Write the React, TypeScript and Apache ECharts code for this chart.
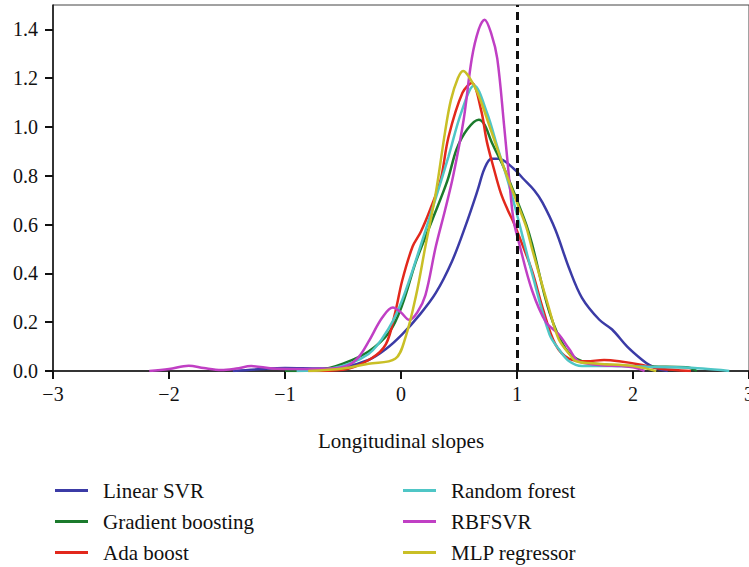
import React, { useEffect, useRef } from "react";
import * as echarts from "echarts";

type Pt = [number, number];

const seriesNames = [
  "Linear SVR",
  "Gradient boosting",
  "Ada boost",
  "Random forest",
  "RBFSVR",
  "MLP regressor",
];
const seriesColors = ["#3b3ba6", "#1b7a2c", "#e2281c", "#4fc6c6", "#c03fc4", "#c9bf26"];

const linearSvr: Pt[] = [
  [-1.45, 0], [-1.2, 0.008], [-1.0, 0.012], [-0.7, 0.01], [-0.5, 0.015], [-0.28, 0.045],
  [-0.13, 0.09], [0.01, 0.15], [0.16, 0.23], [0.3, 0.32], [0.44, 0.45], [0.56, 0.6],
  [0.66, 0.74], [0.72, 0.83], [0.78, 0.87], [0.84, 0.87], [0.97, 0.83], [1.05, 0.79],
  [1.15, 0.74], [1.22, 0.69], [1.33, 0.58], [1.45, 0.42], [1.56, 0.3], [1.71, 0.21],
  [1.82, 0.17], [1.95, 0.1], [2.08, 0.045], [2.14, 0.025], [2.22, 0.008], [2.3, 0],
];
const gradientBoosting: Pt[] = [
  [-1.0, 0], [-0.7, 0.005], [-0.5, 0.03], [-0.28, 0.08], [-0.1, 0.16], [0.01, 0.27],
  [0.13, 0.45], [0.27, 0.62], [0.4, 0.78], [0.48, 0.91], [0.57, 0.99], [0.67, 1.03],
  [0.72, 1.01], [0.78, 0.94], [0.89, 0.83], [1.0, 0.7], [1.08, 0.6], [1.13, 0.52],
  [1.28, 0.24], [1.42, 0.09], [1.56, 0.04], [1.8, 0.025], [2.17, 0.018], [2.46, 0.015],
  [2.55, 0],
];
const adaBoost: Pt[] = [
  [-0.8, 0], [-0.5, 0.005], [-0.26, 0.05], [-0.13, 0.11], [-0.05, 0.24], [0.01, 0.37],
  [0.1, 0.51], [0.17, 0.57], [0.25, 0.66], [0.34, 0.78], [0.41, 0.96], [0.53, 1.14],
  [0.61, 1.18], [0.69, 1.07], [0.74, 0.94], [0.8, 0.83], [0.86, 0.73], [0.92, 0.66],
  [0.97, 0.61], [1.02, 0.55], [1.13, 0.41], [1.22, 0.26], [1.33, 0.11], [1.45, 0.05],
  [1.6, 0.04], [1.75, 0.045], [1.88, 0.04], [2.08, 0.025], [2.22, 0.01], [2.5, 0],
];
const randomForest: Pt[] = [
  [-0.9, 0], [-0.6, 0.01], [-0.28, 0.07], [-0.1, 0.18], [0.01, 0.29], [0.16, 0.5],
  [0.3, 0.71], [0.41, 0.88], [0.52, 1.06], [0.63, 1.17], [0.74, 1.06], [0.83, 0.92],
  [0.92, 0.78], [0.99, 0.66], [1.13, 0.4], [1.28, 0.15], [1.36, 0.09], [1.45, 0.04],
  [1.56, 0.02], [1.8, 0.02], [2.1, 0.018], [2.37, 0.015], [2.6, 0.01], [2.83, 0],
];
const rbfSvr: Pt[] = [
  [-2.17, 0], [-2.0, 0.008], [-1.83, 0.022], [-1.7, 0.012], [-1.55, 0.004], [-1.42, 0.01],
  [-1.29, 0.02], [-1.11, 0.01], [-0.9, 0.008], [-0.6, 0.01], [-0.45, 0.025], [-0.36, 0.06],
  [-0.28, 0.12], [-0.16, 0.22], [-0.07, 0.26], [0.0, 0.24], [0.07, 0.21], [0.14, 0.24],
  [0.21, 0.31], [0.3, 0.51], [0.38, 0.66], [0.45, 0.8], [0.54, 1.03], [0.61, 1.28],
  [0.67, 1.4], [0.72, 1.44], [0.78, 1.38], [0.83, 1.28], [0.89, 1.0], [0.93, 0.8],
  [0.97, 0.62], [1.02, 0.52], [1.13, 0.33], [1.25, 0.2], [1.36, 0.15], [1.45, 0.09],
  [1.53, 0.04], [1.7, 0.025], [1.9, 0.02], [2.0, 0.015], [2.1, 0],
];
const mlpRegressor: Pt[] = [
  [-0.8, 0], [-0.5, 0.01], [-0.28, 0.03], [-0.05, 0.05], [0.04, 0.14], [0.13, 0.31],
  [0.21, 0.51], [0.3, 0.73], [0.38, 0.98], [0.43, 1.11], [0.49, 1.2], [0.535, 1.23],
  [0.58, 1.21], [0.66, 1.14], [0.78, 0.98], [0.89, 0.83], [1.0, 0.69], [1.08, 0.59],
  [1.13, 0.5], [1.28, 0.25], [1.36, 0.13], [1.45, 0.07], [1.51, 0.04], [1.7, 0.03],
  [2.0, 0.02], [2.2, 0],
];
const seriesData: Pt[][] = [linearSvr, gradientBoosting, adaBoost, randomForest, rbfSvr, mlpRegressor];

const referenceSlope = 1;
const xAxisTitle = "Longitudinal slopes";

const FONT = "'Liberation Serif', 'DejaVu Serif', serif";

export default function App() {
  const ref = useRef<HTMLDivElement>(null);
  useEffect(() => {
    if (!ref.current) return;
    const chart = echarts.init(ref.current, undefined, { renderer: "svg" });
    const series: any[] = seriesNames.map((name, i) => ({
      name,
      type: "line",
      data: seriesData[i],
      smooth: 0.35,
      symbol: "none",
      lineStyle: { color: seriesColors[i], width: 2.5 },
      itemStyle: { color: seriesColors[i] },
      z: 3,
    }));
    series.push({
      name: "ref",
      type: "line",
      data: [],
      markLine: {
        silent: true,
        symbol: "none",
        label: { show: false },
        lineStyle: { color: "#111", type: [8, 5], width: 3 },
        data: [{ xAxis: referenceSlope }],
      },
      z: 4,
    });
    const legendText = {
      fontSize: 21,
      lineHeight: 20,
      color: "#111",
      fontFamily: FONT,
      padding: [0, 0, 0, 10],
    };
    chart.setOption({
      animation: false,
      textStyle: { fontFamily: FONT },
      grid: {
        left: 53,
        right: 0,
        top: 5,
        height: 366,
        show: true,
        borderColor: "#444",
        borderWidth: 1,
        containLabel: false,
        outerBoundsMode: "none",
      },
      xAxis: {
        type: "value",
        min: -3,
        max: 3,
        interval: 1,
        splitLine: { show: false },
        axisLine: { onZero: false, lineStyle: { color: "#111", width: 1.5 } },
        axisTick: { show: true, length: 8, lineStyle: { color: "#111", width: 2 } },
        axisLabel: {
          margin: 13,
          fontSize: 20,
          color: "#111",
          fontFamily: FONT,
          formatter: (v: number) => (v < 0 ? "\u2212" + Math.abs(v) : String(v)),
        },
        name: xAxisTitle,
        nameLocation: "middle",
        nameGap: 59,
        nameTextStyle: { fontSize: 21, color: "#111", fontFamily: FONT },
      },
      yAxis: {
        type: "value",
        min: 0,
        max: 1.5,
        interval: 0.2,
        splitLine: { show: false },
        axisLine: { show: true, onZero: false, lineStyle: { color: "#111", width: 1.5 } },
        axisTick: { show: true, length: 8, lineStyle: { color: "#111", width: 2 } },
        axisLabel: {
          margin: 15,
          fontSize: 20,
          color: "#111",
          fontFamily: FONT,
          showMaxLabel: false,
          formatter: (v: number) => (v > 1.45 ? "" : v.toFixed(1)),
        },
      },
      legend: [
        {
          data: seriesNames.slice(0, 3),
          orient: "vertical",
          left: 55,
          top: 480,
          padding: 0,
          itemGap: 10,
          icon: "rect",
          itemWidth: 33,
          itemHeight: 3,
          textStyle: legendText,
        },
        {
          data: seriesNames.slice(3, 6),
          orient: "vertical",
          left: 403,
          top: 480,
          padding: 0,
          itemGap: 10,
          icon: "rect",
          itemWidth: 33,
          itemHeight: 3,
          textStyle: legendText,
        },
      ],
      series,
    });
    return () => chart.dispose();
  }, []);
  return (
    <div
      ref={ref}
      style={{ position: "fixed", left: 0, top: 0, width: 749, height: 567, background: "#fff" }}
    />
  );
}
